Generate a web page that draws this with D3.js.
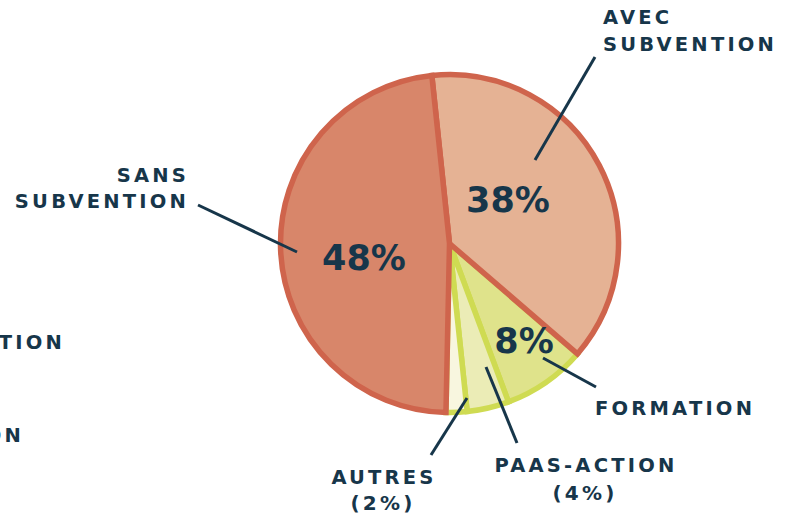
<!DOCTYPE html>
<html><head><meta charset="utf-8">
<script src="https://cdn.jsdelivr.net/npm/d3@7"></script>
<style>
html,body{margin:0;padding:0;background:#fff;}
svg{display:block;}
</style></head>
<body>
<svg id="chart" width="789" height="515"></svg>
<script>
const categories = ["AVEC SUBVENTION", "FORMATION", "PAAS-ACTION", "AUTRES", "SANS SUBVENTION"];
const values = [38, 8, 4, 2, 48];
const pctLabels = ["38%", "8%", "(4%)", "(2%)", "48%"];
const fills = ["#e5b294", "#dfe38b", "#ebecb6", "#f8f6df", "#d8866a"];
const strokes = ["#cf644c", "#cfdb52", "#cfdb52", "#cfdb52", "#cf644c"];

const svg = d3.select("#chart");
const cx = 449.5, cy = 243.5, R = 169;
const ink = "#17364a";
const font = "'DejaVu Sans', sans-serif";

const deg = Math.PI / 180;
const pie = d3.pie().sort(null).value(d => d.v)
  .startAngle(-6 * deg).endAngle(354 * deg);
const data = categories.map((c, i) => ({c, v: values[i], i}));
const arcs = pie(data);
const arc = d3.arc().innerRadius(0).outerRadius(R);

const g = svg.append("g").attr("transform", `translate(${cx},${cy})`);
// draw yellow-stroked slices first, then salmon ones
const order = [1, 2, 3, 0, 4];
g.selectAll("path").data(order.map(k => arcs[k])).join("path")
  .attr("d", arc)
  .attr("fill", d => fills[d.data.i])
  .attr("stroke", d => strokes[d.data.i])
  .attr("stroke-width", 5.5)
  .attr("stroke-linejoin", "miter");

// percentage labels inside slices
const inner = [
  {i: 0, x: 508, y: 212, size: 35},
  {i: 4, x: 364, y: 270, size: 35},
  {i: 1, x: 524, y: 353, size: 35}
];
svg.selectAll("text.pct").data(inner).join("text")
  .attr("class", "pct")
  .attr("x", d => d.x).attr("y", d => d.y)
  .attr("text-anchor", "middle")
  .attr("font-family", font).attr("font-weight", 900)
  .attr("font-size", d => d.size)
  .attr("fill", ink)
  .text(d => pctLabels[d.i]);

// leader lines
const leaders = [
  [535, 160, 595, 57],
  [198, 205, 297, 252],
  [543, 358, 596, 387],
  [486, 367, 517, 443],
  [467, 398, 431, 455]
];
svg.selectAll("line.lead").data(leaders).join("line")
  .attr("class", "lead")
  .attr("x1", d => d[0]).attr("y1", d => d[1])
  .attr("x2", d => d[2]).attr("y2", d => d[3])
  .attr("stroke", ink).attr("stroke-width", 3);

// outer labels
const outer = [
  {t: "AVEC", x: 603, y: 24, a: "start"},
  {t: "SUBVENTION", x: 603, y: 51, a: "start"},
  {t: "SANS", x: 189, y: 182, a: "end"},
  {t: "SUBVENTION", x: 189, y: 208, a: "end"},
  {t: "FORMATION", x: 595, y: 415, a: "start"},
  {t: "PAAS-ACTION", x: 586, y: 472, a: "middle"},
  {t: pctLabels[2], x: 585, y: 500, a: "middle", s: 20},
  {t: "AUTRES", x: 384, y: 484, a: "middle"},
  {t: pctLabels[3], x: 383, y: 510, a: "middle", s: 20},
  {t: "FORMATION", x: 65, y: 349, a: "end"},
  {t: "PAAS-ACTION", x: 24, y: 442, a: "end"}
];
svg.selectAll("text.lab").data(outer).join("text")
  .attr("class", "lab")
  .attr("x", d => d.x).attr("y", d => d.y)
  .attr("text-anchor", d => d.a)
  .attr("font-family", font).attr("font-weight", 700)
  .attr("font-size", d => d.s || 19.5)
  .attr("letter-spacing", 3.2)
  .attr("fill", ink)
  .text(d => d.t);
</script>
</body></html>
